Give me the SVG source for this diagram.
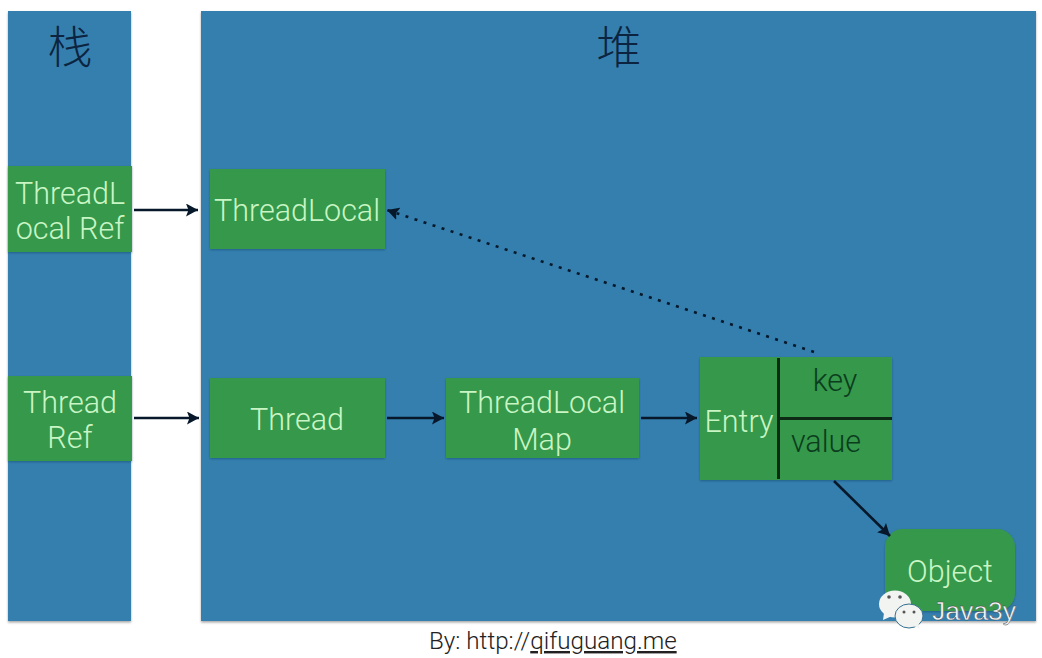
<svg xmlns="http://www.w3.org/2000/svg" width="1042" height="658" viewBox="0 0 1042 658">
<style>
.panel{fill:#357fae;filter:url(#sh)}
.box{fill:#35984b;filter:url(#sh2)}
.t{font-family:Roboto,"Liberation Sans",sans-serif;font-weight:300;font-size:30.500px;fill:#c9f5c4;text-anchor:middle}
.d{font-family:Roboto,"Liberation Sans",sans-serif;font-weight:300;font-size:30.500px;fill:#0b3d1d;text-anchor:middle}
.cjk{font-family:"Noto Sans CJK SC",sans-serif;font-weight:300;font-size:45px;fill:#0c2440;text-anchor:middle}
.c{stroke:#06182a;stroke-width:2.6;fill:none}
.div{stroke:#0c2a14;stroke-width:3;fill:none}
</style>
<defs>
<filter id="sh" x="-5%" y="-5%" width="110%" height="110%"><feDropShadow dx="0" dy="1.500" stdDeviation="1.200" flood-color="#000" flood-opacity=".35"/></filter>
<filter id="sh2" x="-5%" y="-5%" width="110%" height="110%"><feDropShadow dx="0" dy="1" stdDeviation="1" flood-color="#0a3050" flood-opacity=".4"/></filter>
<marker id="a" markerUnits="userSpaceOnUse" markerWidth="14" markerHeight="14" refX="12" refY="6.500" orient="auto"><path d="M0 0L12 6.500L0 13L2.500 6.500Z" fill="#06182a"/></marker>
</defs>
<rect width="1042" height="658" fill="#fff"/>
<g id="stack"><rect class="panel" x="8" y="11" width="123" height="610"/><text class="cjk" x="70" y="64">栈</text></g>
<g id="heap"><rect class="panel" x="201" y="11" width="835" height="610"/><text class="cjk" x="619" y="64">堆</text></g>
<g id="threadlocal-ref"><rect class="box" x="8" y="166" width="124" height="86"/><text class="t" x="70" y="204">ThreadL</text><text class="t" x="70" y="239">ocal Ref</text></g>
<g id="thread-ref"><rect class="box" x="8" y="376" width="124" height="85"/><text class="t" x="70" y="413">Thread</text><text class="t" x="70" y="448">Ref</text></g>
<g id="threadlocal"><rect class="box" x="210" y="169" width="175" height="80"/><text class="t" x="297" y="221">ThreadLocal</text></g>
<g id="thread"><rect class="box" x="210" y="378" width="175" height="80"/><text class="t" x="297" y="430">Thread</text></g>
<g id="threadlocal-map"><rect class="box" x="446" y="378" width="193" height="80"/><text class="t" x="542" y="413">ThreadLocal</text><text class="t" x="542" y="450">Map</text></g>
<g id="entry"><rect class="box" x="700" y="357" width="192" height="123"/><path class="div" d="M778.500 358V479M779 418.500H892"/><text class="t" x="739" y="432">Entry</text><text class="d" x="835" y="391">key</text><text class="d" x="826" y="452">value</text></g>
<g id="object"><rect class="box" x="885" y="529" width="130" height="82" rx="18"/><text class="t" x="950" y="582">Object</text></g>
<g id="connectors">
<path class="c" d="M134 210H198" marker-end="url(#a)"/>
<path class="c" d="M134 418H199" marker-end="url(#a)"/>
<path class="c" d="M387 418H444" marker-end="url(#a)"/>
<path class="c" d="M641 418H697" marker-end="url(#a)"/>
<path class="c" d="M834 481L890 536" marker-end="url(#a)"/>
<path class="c" d="M814 352L387 210" stroke-dasharray="3 6.500" stroke-width="3" marker-end="url(#a)"/>
</g>
<g id="watermark">
<ellipse cx="895" cy="604" rx="16" ry="13.500" fill="#f2f4f2"/><path d="M884 613L883 620L892 616Z" fill="#f2f4f2"/>
<ellipse cx="909" cy="616" rx="14" ry="12" fill="#f2f4f2" stroke="#35708f" stroke-width="1"/><path d="M914 626L920 629L918 622Z" fill="#f2f4f2"/>
<circle cx="889" cy="597" r="1.800" fill="#555"/><circle cx="900" cy="597" r="1.800" fill="#555"/><circle cx="904" cy="612" r="1.500" fill="#555"/><circle cx="914" cy="612" r="1.500" fill="#555"/>
<text x="932" y="620" font-family="'Liberation Sans',Arial,sans-serif" font-size="26.500" fill="#f4f6f8" stroke="#444" stroke-width=".4">Java3y</text>
</g>
<text x="429" y="649" font-family="Roboto,'Liberation Sans',sans-serif" font-weight="300" font-size="24.200" fill="#222">By: http://<tspan text-decoration="underline">qifuguang.me</tspan></text>
</svg>
